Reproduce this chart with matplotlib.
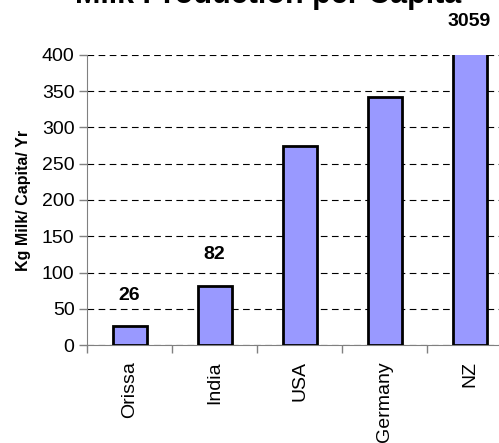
import matplotlib.pyplot as plt

# Data
countries = ['Orissa', 'India', 'USA', 'Germany', 'NZ']
milk = [26, 82, 274, 342, 3059]  # kg milk / capita / yr
shown_labels = {'Orissa': '26', 'India': '82', 'NZ': '3059'}
yticks = [0, 50, 100, 150, 200, 250, 300, 350, 400]

plt.rcParams['font.family'] = ['Liberation Sans', 'DejaVu Sans']

fig = plt.figure(figsize=(4.99, 4.43), dpi=100)
ax = fig.add_axes([87 / 499, 98 / 443, 425 / 499, 290 / 443])

x = range(len(countries))
ax.bar(x, milk, width=0.4, color='#9999FF', edgecolor='black', linewidth=2, zorder=3)

ax.set_xlim(-0.5, len(countries) - 0.5)
ax.set_ylim(0, 400)
ax.set_yticks(yticks)
ax.tick_params(axis='y', labelsize=14, length=6, width=1, color='#808080', pad=3)

# category boundary ticks on x axis, labels at centres
ax.set_xticks([i + 0.5 for i in range(-1, len(countries) - 1)])
ax.set_xticklabels([])
ax.tick_params(axis='x', length=6, width=1, color='#808080', direction='out')
for i, c in enumerate(countries):
    ax.text(i, -0.055, c, transform=ax.get_xaxis_transform(), rotation=90,
            ha='center', va='top', fontsize=14)

ax.yaxis.grid(True, linestyle=(0, (6, 4)), color='black', linewidth=0.8)
ax.set_axisbelow(True)
for s in ['top', 'right']:
    ax.spines[s].set_visible(False)
for s in ['left', 'bottom']:
    ax.spines[s].set_color('#808080')

# value labels
for i, c in enumerate(countries):
    if c in shown_labels:
        if milk[i] > 400:
            ax.text(i, 1.115, shown_labels[c], transform=ax.get_xaxis_transform(),
                    ha='center', va='center', fontsize=14, fontweight='bold')
        else:
            ax.annotate(shown_labels[c], (i, milk[i]), xytext=(0, 22),
                        textcoords='offset points', ha='center', va='center',
                        fontsize=14, fontweight='bold')

ax.set_ylabel('Kg Milk/ Capita/ Yr', fontsize=11.5, fontweight='bold', labelpad=8)
fig.text(268 / 499, 1 - 3 / 443, 'Milk Production per Capita', ha='center',
         va='baseline', fontsize=22, fontweight='bold')

fig.savefig('out.png', dpi=100)
